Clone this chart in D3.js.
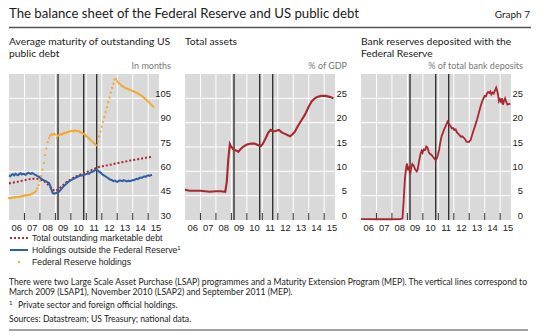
<!DOCTYPE html>
<html>
<head>
<meta charset="utf-8">
<script src="https://cdn.jsdelivr.net/npm/d3@7/dist/d3.min.js"></script>
<style>
  body{margin:0;background:#fff}
  text{fill:#1a1a1a}
</style>
</head>
<body>
<div id="chart"></div>
<script>
// LSAP1 (Mar 2009), LSAP2 (Nov 2010), MEP (Sep 2011) as decimal years
var eventDates = [2009.17, 2010.83, 2011.67];
var yearLabels = ["06","07","08","09","10","11","12","13","14","15"];
var maturityTicks = [30, 45, 60, 75, 90, 105];
var shareTicks = [0, 5, 10, 15, 20, 25];

// average maturity, in months -- quarterly from 2006 Q1
var totalDebt = [52.5,53,53.5,54, 54.5,55,55.5,55.5, 55,54,52,49.5, 48,49.5,51.5,53.5,
                 55,56.5,57.5,58.5, 59.5,60.5,61.5,62.5, 63,63.5,64,64.5, 65,65.5,66,66.5,
                 67,67.3,67.8,68.2, 68.6,69];
// monthly from Jan 2006
var outsideFed = [57.5,57,57.8,58.2,57.5,58.5,58,57.6,58.4,58.8,58,58.5,
                  58.2,57.8,58.6,59.2,58.8,58.4,59,58.5,58,57.6,57,56.8,
                  56,55.5,54.8,54.5,54,53.8,53.2,52.8,51,48.5,46.5,46.2,
                  46.5,46.8,47,47.5,48.5,49.5,50.5,51.2,52,52.8,53.5,54,
                  54.5,55,55.3,55.8,56.2,56.5,57,57.3,57.6,57.5,57.8,58,
                  58.3,58.8,58.5,59.2,59.5,59.8,60.3,60.8,61,60.5,59.8,59.2,
                  58.5,57.8,57.3,56.8,56.2,55.8,55.2,54.8,54.5,54,54.3,53.8,
                  53.5,54,54.5,54.2,54,54.6,54.3,53.8,54,54.2,53.9,54.3,
                  54.6,54.5,55,55.4,55.2,55.8,56.2,56,56.5,56.9,56.6,57.2,
                  57.5,57.2,57.6,57.8];
var fedHoldings = [43.5,43.4,43.6,43.8,44,43.9,44.1,44.3,44.2,44.5,44.6,44.8,
                   45,45.1,45.3,45.5,45.4,45.8,46.2,46.6,47.2,48,49.5,51.5,
                   54,57,61,65,70,74,78,80.5,82,82.8,82.5,83,
                   82.6,80.5,82,82.5,83,82.6,83.2,83.8,83.5,84,84.3,84.6,
                   84.8,85,84.6,85.2,85,84.7,85,84.3,83.8,83.5,83,82.4,
                   81.8,81,80.3,79.5,78.8,78,77.2,76.5,76,78.5,81.5,84.5,
                   87.5,90.5,93.5,96.5,99.5,102.5,105.5,108.5,111.5,114,116.5,117,
                   115.5,114.5,113.8,113,112.5,112,111.5,111.2,110.8,110.5,110.2,109.8,
                   109.5,109.2,108.8,108.4,108,107.5,107,106.5,105.8,105.2,104.5,103.8,
                   103,102.2,101.3,100.5,99.8];

// Fed total assets, % of GDP
var assetDates = [2006,2006.3,2006.6,2007,2007.3,2007.6,2008,2008.3,2008.6,2008.7,2008.8,2008.9,
                  2009,2009.15,2009.3,2009.45,2009.6,2009.78,2010,2010.3,2010.5,2010.7,2010.9,
                  2011.04,2011.2,2011.38,2011.53,2011.7,2011.85,2012.07,2012.25,2012.4,2012.6,
                  2012.8,2012.95,2013.1,2013.3,2013.55,2013.75,2013.9,2014.05,2014.2,2014.4,
                  2014.55,2014.8,2015.1,2015.35,2015.6];
var assetValues = [6.2,6,6,6,5.9,5.8,5.9,5.9,5.8,7.8,12.5,15.6,
                   15,14.4,14.3,14,14.6,15.1,15.5,15.7,15.7,15.4,15.2,
                   15.7,16.7,17.9,18.5,18.2,18.3,18.5,18,17.8,17.5,
                   17.2,17.6,18.1,19.3,20.6,21.6,22.6,23.6,24.4,25,
                   25.3,25.5,25.5,25.3,25];

// bank reserves, % of total bank deposits
var reserveDates = [2006,2006.5,2007,2007.5,2008,2008.5,2008.68,2008.76,2008.84,2008.92,2008.98,
                    2009.04,2009.1,2009.18,2009.25,2009.32,2009.4,2009.5,2009.6,2009.66,2009.75,
                    2009.85,2009.92,2009.98,2010.05,2010.15,2010.22,2010.3,2010.38,2010.45,2010.55,
                    2010.65,2010.75,2010.83,2010.9,2010.97,2011.05,2011.13,2011.22,2011.31,2011.4,
                    2011.5,2011.6,2011.68,2011.78,2011.88,2011.96,2012.03,2012.12,2012.2,2012.3,
                    2012.38,2012.46,2012.55,2012.65,2012.75,2012.83,2012.92,2013,2013.1,2013.2,
                    2013.3,2013.4,2013.5,2013.58,2013.66,2013.75,2013.84,2013.92,2014,2014.08,
                    2014.15,2014.22,2014.3,2014.36,2014.43,2014.5,2014.58,2014.66,2014.74,2014.8,
                    2014.86,2014.92,2014.98,2015.05,2015.12,2015.18,2015.25,2015.32,2015.4,2015.47,
                    2015.55,2015.65];
var reserveValues = [0.2,0.2,0.15,0.2,0.15,0.2,0.3,4,8.5,10.8,11.6,
                     10.2,11,9.3,10.8,11.5,11.2,10.4,10,10.3,12,
                     13.6,14.2,13.8,14.5,14.4,15.1,14.9,14,13.6,13.4,
                     13,12.6,12.3,12.6,13.3,14.4,16,17.3,18,18.8,
                     19.5,20.2,19.8,19.3,18.8,18.9,18.5,18.6,18,17.7,
                     17.4,17.1,17.2,16.9,16.5,16.1,16,16.1,16.5,17.6,
                     18.6,19.6,20.6,21.5,22.5,23.5,24.4,25,25.5,25.4,
                     26,26.3,26.1,26.4,25.8,26.2,26,26.6,27.2,26.6,
                     25.8,24.4,24.8,24.3,25,23.7,24.5,25,24.2,23.7,
                     23.8,23.9];

var W = 540, H = 335;
var pw = 150, ph = 146, plotTop = 74;
var lineRed = "#a8282e", blue = "#2f5fa6", orange = "#f0a932";

var svg = d3.select("#chart").append("svg").attr("width", W).attr("height", H)
            .style("font-family", "Lato, 'Open Sans', sans-serif");

//------------------------------------------------------------//
//                       HEADER                               //
//------------------------------------------------------------//
svg.append("text").attr("x", 9).attr("y", 18).style("font-size", "13.2px")
   .text("The balance sheet of the Federal Reserve and US public debt");
svg.append("text").attr("x", 530).attr("y", 18).attr("text-anchor", "end").style("font-size", "10px")
   .text("Graph 7");
svg.append("line").attr("x1", 9).attr("x2", 531).attr("y1", 27.5).attr("y2", 27.5)
   .style("stroke", "#555").style("stroke-width", 1.3);

var panelTitles = [["Average maturity of outstanding US", "public debt"], ["Total assets"],
                   ["Bank reserves deposited with the", "Federal Reserve"]];
var units = ["In months", "% of GDP", "% of total bank deposits"];
var lefts = [9, 185, 361];

//------------------------------------------------------------//
//                       PANELS                               //
//------------------------------------------------------------//
function panel(i, yDomain, yTicks){
    var g = svg.append("g").attr("transform", "translate(" + lefts[i] + "," + plotTop + ")");
    var x = d3.scaleLinear().domain([2006, 2015.7]).range([0, pw]);
    var y = d3.scaleLinear().domain(yDomain).range([ph, 0]);

    panelTitles[i].forEach(function(t, k){
        svg.append("text").attr("x", lefts[i]).attr("y", 45 + k * 12).style("font-size", "10.3px").text(t);
    });
    svg.append("text").attr("x", lefts[i] + pw + 12).attr("y", 69).attr("text-anchor", "end")
       .style("font-size", "9px").style("fill", "#777").text(units[i]);

    g.append("rect").attr("width", pw).attr("height", ph).style("fill", "#d9d9d9");
    var years = d3.range(2007, 2016);
    g.selectAll(".vg").data(years).enter().append("line")
     .attr("x1", x).attr("x2", x).attr("y1", 0).attr("y2", ph)
     .style("stroke", "#fff").style("stroke-width", 1);
    g.selectAll(".hg").data(yTicks.slice(1)).enter().append("line")
     .attr("x1", 0).attr("x2", pw).attr("y1", y).attr("y2", y)
     .style("stroke", "#fff").style("stroke-width", 1);
    // year ticks along the bottom
    g.selectAll(".xt").data(years).enter().append("line")
     .attr("x1", x).attr("x2", x).attr("y1", ph - 7).attr("y2", ph)
     .style("stroke", "#333").style("stroke-width", 1);
    g.selectAll(".xl").data(yearLabels).enter().append("text")
     .attr("x", function(d, k){ return x(2006.5 + k); }).attr("y", ph + 11)
     .attr("text-anchor", "middle").style("font-family", "'Liberation Sans', Arial, sans-serif")
     .style("font-size", "9.4px").text(function(d){ return d; });
    g.selectAll(".yl").data(yTicks).enter().append("text")
     .attr("x", pw + 12).attr("y", function(d){ return y(d) - 1.5; }).attr("text-anchor", "end")
     .style("font-family", "'Liberation Sans', Arial, sans-serif").style("font-size", "9.4px")
     .text(function(d){ return d; });
    g.selectAll(".ev").data(eventDates).enter().append("line")
     .attr("x1", x).attr("x2", x).attr("y1", 0).attr("y2", ph)
     .style("stroke", "#333").style("stroke-width", 1.4);
    return {g: g, x: x, y: y};
}

var p1 = panel(0, [30, 120], maturityTicks);
var p2 = panel(1, [0, 30], shareTicks);
var p3 = panel(2, [0, 30], shareTicks);

// panel 1: debt maturity
var month = function(d, k){ return 2006 + k / 12; };
var quarter = function(d, k){ return 2006 + k / 4; };
p1.g.append("path").datum(totalDebt)
    .attr("d", d3.line().x(function(d, k){ return p1.x(quarter(d, k)); }).y(p1.y).curve(d3.curveMonotoneX))
    .style("fill", "none").style("stroke", lineRed).style("stroke-width", 2).style("stroke-dasharray", "2,2");
p1.g.append("path").datum(outsideFed)
    .attr("d", d3.line().x(function(d, k){ return p1.x(month(d, k)); }).y(p1.y))
    .style("fill", "none").style("stroke", blue).style("stroke-width", 2);
p1.g.selectAll(".fh").data(fedHoldings).enter().append("circle")
    .attr("cx", function(d, k){ return p1.x(month(d, k)); }).attr("cy", p1.y).attr("r", 1.15)
    .style("fill", orange);

// panel 2: total assets
p2.g.append("path").datum(assetValues)
    .attr("d", d3.line().x(function(d, k){ return p2.x(assetDates[k]); }).y(p2.y))
    .style("fill", "none").style("stroke", lineRed).style("stroke-width", 2.1);

// panel 3: bank reserves
p3.g.append("path").datum(reserveValues)
    .attr("d", d3.line().x(function(d, k){ return p3.x(reserveDates[k]); }).y(p3.y))
    .style("fill", "none").style("stroke", lineRed).style("stroke-width", 1.8);

//------------------------------------------------------------//
//                       LEGEND                               //
//------------------------------------------------------------//
var legend = svg.append("g").style("font-family", "'Liberation Sans', Arial, sans-serif").style("font-size", "8.7px");
legend.append("line").attr("x1", 10).attr("x2", 28).attr("y1", 238).attr("y2", 238)
      .style("stroke", lineRed).style("stroke-width", 2).style("stroke-dasharray", "2,2");
legend.append("text").attr("x", 32).attr("y", 241).text("Total outstanding marketable debt");
legend.append("line").attr("x1", 10).attr("x2", 28).attr("y1", 250).attr("y2", 250)
      .style("stroke", blue).style("stroke-width", 2);
var t2 = legend.append("text").attr("x", 32).attr("y", 253).text("Holdings outside the Federal Reserve");
t2.append("tspan").attr("dy", -3.5).style("font-size", "6px").text("1");
legend.append("circle").attr("cx", 19).attr("cy", 262).attr("r", 1.15).style("fill", orange);
legend.append("text").attr("x", 32).attr("y", 265).text("Federal Reserve holdings");

//------------------------------------------------------------//
//                       NOTES                                //
//------------------------------------------------------------//
var notes = svg.append("g").style("font-size", "8.6px");
notes.append("text").attr("x", 9).attr("y", 285).attr("textLength", 518).attr("lengthAdjust", "spacing")
     .text("There were two Large Scale Asset Purchase (LSAP) programmes and a Maturity Extension Program (MEP). The vertical lines correspond to");
notes.append("text").attr("x", 9).attr("y", 295)
     .text("March 2009 (LSAP1), November 2010 (LSAP2) and September 2011 (MEP).");
notes.append("text").attr("x", 9).attr("y", 305).style("font-size", "6px").text("1");
notes.append("text").attr("x", 18).attr("y", 308).text("Private sector and foreign official holdings.");
notes.append("text").attr("x", 9).attr("y", 322).text("Sources: Datastream; US Treasury; national data.");
svg.append("line").attr("x1", 9).attr("x2", 528).attr("y1", 330).attr("y2", 330)
   .style("stroke", "#444").style("stroke-width", 1.2);
</script>
</body>
</html>
